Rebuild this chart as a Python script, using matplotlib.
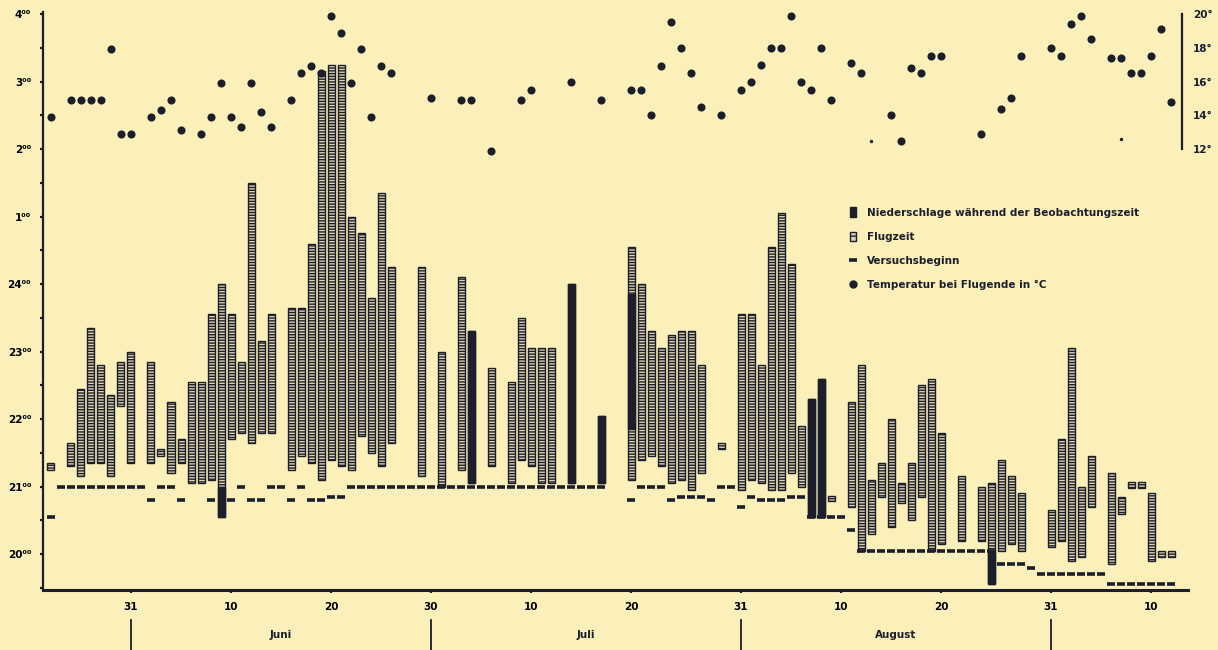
import matplotlib
matplotlib.use("Agg")
import matplotlib.pyplot as plt
from matplotlib.patches import Patch
from matplotlib.lines import Line2D

# days counted from 31 May (0 = 31.5., 30 = 30.6., 61 = 31.7., 92 = 31.8.)
# times in hours, after midnight continued as 25 = 1:00, 26 = 2:00 ...

# Flugzeit
flight_days = [-8, -6, -5, -4, -3, -2, -1, 0, 2, 3, 4, 5, 6, 7, 8, 9, 10, 11, 12, 13, 14,
               16, 17, 18, 19, 20, 21, 22, 23, 24, 25, 26, 29, 31, 33, 34, 36, 38, 39, 40,
               41, 42, 44, 47, 50, 51, 52, 53, 54, 55, 56, 57, 59, 61, 62, 63, 64, 65, 66,
               67, 68, 69, 70, 72, 73, 74, 75, 76, 77, 78, 79, 80, 81, 83, 85, 86, 87, 88,
               89, 92, 93, 94, 95, 96, 98, 99, 100, 101, 102, 103, 104]
flight_start = [21.25, 21.3, 21.15, 21.35, 21.35, 21.15, 22.2, 21.35, 21.35, 21.45, 21.2,
                21.35, 21.05, 21.05, 21.1, 20.55, 21.7, 21.8, 21.65, 21.8, 21.8,
                21.25, 21.45, 21.35, 21.1, 21.4, 21.3, 21.25, 21.75, 21.5, 21.3, 21.65,
                21.15, 21.0, 21.25, 21.05, 21.3, 21.05, 21.4, 21.3,
                21.05, 21.05, 21.05, 21.05, 21.1, 21.4, 21.45, 21.3, 21.05, 21.1, 20.95,
                21.2, 21.55, 20.95, 21.1, 21.05, 20.95, 20.95, 21.2,
                21.0, 20.55, 20.55, 20.78, 20.7, 20.05, 20.3, 20.85, 20.4, 20.75, 20.5,
                20.85, 20.05, 20.15, 20.2, 20.2, 19.55, 20.05, 20.15,
                20.05, 20.1, 20.2, 19.9, 19.95, 20.7, 19.85, 20.6, 20.98, 20.98, 19.9,
                19.95, 19.95]
flight_end = [21.35, 21.65, 22.45, 23.35, 22.8, 22.35, 22.85, 23.0, 22.85, 21.55, 22.25,
              21.7, 22.55, 22.55, 23.55, 24.0, 23.55, 22.85, 25.5, 23.15, 23.55,
              23.65, 23.65, 24.6, 27.15, 27.25, 27.25, 25.0, 24.75, 23.8, 25.35, 24.25,
              24.25, 23.0, 24.1, 23.3, 22.75, 22.55, 23.5, 23.05,
              23.05, 23.05, 24.0, 22.05, 24.55, 24.0, 23.3, 23.05, 23.25, 23.3, 23.3,
              22.8, 21.65, 23.55, 23.55, 22.8, 24.55, 25.05, 24.3,
              21.9, 22.3, 22.6, 20.86, 22.25, 22.8, 21.1, 21.35, 22.0, 21.05, 21.35,
              22.5, 22.6, 21.8, 21.15, 21.0, 21.05, 21.4, 21.15,
              20.9, 20.65, 21.7, 23.05, 21.0, 21.45, 21.2, 20.85, 21.06, 21.06, 20.9,
              20.05, 20.05]

# Niederschlaege waehrend der Beobachtungszeit
rain_days = [9, 34, 44, 47, 50, 68, 69, 86]
rain_start = [20.55, 21.05, 21.05, 21.05, 21.85, 20.55, 20.55, 19.55]
rain_end = [21.0, 23.3, 24.0, 22.05, 23.85, 22.3, 22.6, 20.05]

# Versuchsbeginn
start_days = [-8, -7, -6, -5, -4, -3, -2, -1, 0, 1, 2, 3, 4, 5, 8, 10, 11, 12, 13, 14, 15,
              16, 17, 18, 19, 20, 21,
              22, 23, 24, 25, 26, 27, 28, 29, 30, 31, 32, 33, 34, 35, 36, 37, 38, 39, 40,
              41, 42, 43, 44, 45, 46, 47,
              50, 51, 52, 53, 54, 55, 56, 57, 58, 59, 60, 61, 62, 63, 64, 65, 66, 67,
              68, 69, 70, 71, 72, 73, 74, 75, 76, 77, 78, 79, 80, 81, 82, 83, 84, 85, 86,
              87, 88, 89, 90, 91, 92, 93, 94, 95, 96, 97, 98, 99, 100, 101, 102, 103, 104]
start_time = [20.55, 21.0, 21.0, 21.0, 21.0, 21.0, 21.0, 21.0, 21.0, 21.0, 20.8, 21.0, 21.0,
              20.8, 20.8, 20.8, 21.0, 20.8, 20.8, 21.0, 21.0,
              20.8, 21.0, 20.8, 20.8, 20.85, 20.85,
              21.0, 21.0, 21.0, 21.0, 21.0, 21.0, 21.0, 21.0, 21.0, 21.0, 21.0, 21.0, 21.0,
              21.0, 21.0, 21.0, 21.0, 21.0, 21.0, 21.0, 21.0, 21.0, 21.0, 21.0, 21.0, 21.0,
              20.8, 21.0, 21.0, 21.0, 20.8, 20.85, 20.85, 20.85, 20.8, 21.0, 21.0, 20.7,
              20.85, 20.8, 20.8, 20.8, 20.85, 20.85,
              20.55, 20.55, 20.55, 20.55, 20.35, 20.05, 20.05, 20.05, 20.05, 20.05, 20.05,
              20.05, 20.05, 20.05, 20.05, 20.05, 20.05, 20.05, 20.05,
              19.85, 19.85, 19.85, 19.8, 19.7, 19.7, 19.7, 19.7, 19.7, 19.7, 19.7,
              19.55, 19.55, 19.55, 19.55, 19.55, 19.55, 19.55]

# Temperatur bei Flugende in °C
temp_days = [-8, -6, -5, -4, -3, -2, -1, 0, 2, 3, 4, 5, 7, 8, 9, 10, 11, 12, 13, 14,
             16, 17, 18, 19, 20, 21, 22, 23, 24, 25, 26, 30, 33, 34, 36, 39, 40, 44, 47,
             50, 51, 52, 53, 54, 55, 56, 57, 59, 61, 62, 63, 64, 65, 66, 67, 68, 69, 70,
             72, 73, 76, 77, 78, 79, 80, 81, 85, 87, 88, 89, 92, 93, 94, 95, 96,
             98, 99, 100, 101, 102, 103, 104]
temp_values = [13.9, 14.9, 14.9, 14.9, 14.9, 17.9, 12.9, 12.9, 13.9, 14.3, 14.9, 13.1,
               12.9, 13.9, 15.9, 13.9, 13.3, 15.9, 14.2, 13.3,
               14.9, 16.5, 16.9, 16.5, 19.9, 18.9, 15.9, 17.9, 13.9, 16.9, 16.5,
               15.0, 14.9, 14.9, 11.9, 14.9, 15.5, 16.0, 14.9,
               15.5, 15.5, 14.0, 16.9, 19.5, 18.0, 16.5, 14.5, 14.0,
               15.5, 16.0, 17.0, 18.0, 18.0, 19.9, 16.0, 15.5, 18.0, 14.9,
               17.1, 16.5, 14.0, 12.5, 16.8, 16.5, 17.5, 17.5, 12.9,
               14.4, 15.0, 17.5, 18.0, 17.5, 19.4, 19.9, 18.5,
               17.4, 17.4, 16.5, 16.5, 17.5, 19.1, 14.8]
faint_days = [74, 99]
faint_values = [12.5, 12.6]

hour_ticks = [20, 21, 22, 23, 24, 25, 26, 27, 28]
hour_labels = ['20⁰⁰', '21⁰⁰', '22⁰⁰', '23⁰⁰', '24⁰⁰', '1⁰⁰', '2⁰⁰', '3⁰⁰', '4⁰⁰']
day_ticks = [0, 10, 20, 30, 40, 50, 61, 71, 81, 92, 102]
day_labels = ['31', '10', '20', '30', '10', '20', '31', '10', '20', '31', '10']
month_bounds = [0, 30, 61, 92]
month_names = ['Juni', 'Juli', 'August']
temp_ticks = [12, 14, 16, 18, 20]

paper = '#fbefba'
ink = '#1c1e2c'
bar_face = '#ddd3ad'

plt.rcParams['font.family'] = ['DejaVu Sans']
plt.rcParams['font.weight'] = 'bold'
plt.rcParams['hatch.linewidth'] = 1.0

fig = plt.figure(figsize=(12.18, 6.5), dpi=100, facecolor=paper)
ax = fig.add_axes([0.0353, 0.0923, 0.9401, 0.8892])
ax.set_facecolor(paper)

heights = [e - s for s, e in zip(flight_start, flight_end)]
ax.bar(flight_days, heights, bottom=flight_start, width=0.7, facecolor=bar_face,
       edgecolor=ink, linewidth=1.0, hatch='------', zorder=2)
rain_h = [e - s for s, e in zip(rain_start, rain_end)]
ax.bar(rain_days, rain_h, bottom=rain_start, width=0.7, facecolor=ink,
       edgecolor=ink, linewidth=1.0, zorder=3)
ax.plot(start_days, start_time, ls='none', marker='_', ms=5.5, mew=2.6, color=ink, zorder=4)

ax.set_xlim(-8.8, 105.7)
ax.set_ylim(19.467, 28.03)
ax.set_yticks(hour_ticks)
ax.set_yticklabels(hour_labels, fontsize=7.5)
ax.set_yticks([h + 0.5 for h in hour_ticks[:-1]] + [19.5], minor=True)
ax.set_xticks(day_ticks)
ax.set_xticklabels(day_labels, fontsize=7.5)
ax.tick_params(axis='y', which='both', length=2.5, width=1.6, color=ink, pad=6)
ax.tick_params(axis='x', length=2.5, width=1.6, color=ink, pad=6)
for s in ['top', 'right']:
    ax.spines[s].set_visible(False)
ax.spines['left'].set_linewidth(1.6)
ax.spines['bottom'].set_linewidth(2.2)
ax.spines['left'].set_color(ink)
ax.spines['bottom'].set_color(ink)

# month separators and names under the date axis
trans = ax.get_xaxis_transform()
for b in month_bounds:
    ax.plot([b, b], [-0.052, -0.11], transform=trans, color=ink, lw=1.3, clip_on=False)
for i, name in enumerate(month_names):
    mid = (month_bounds[i] + month_bounds[i + 1]) / 2
    ax.text(mid, -0.078, name, transform=trans, ha='center', va='center',
            fontsize=7.5, color=ink)

# temperature scale on the right
tx = ax.twinx()
tx.set_ylim(12 + (19.467 - 26) * 4, 12 + (28.03 - 26) * 4)
tx.scatter(temp_days, temp_values, s=34, color=ink, zorder=5, linewidths=0)
tx.scatter(faint_days, faint_values, s=6, color=ink, zorder=5, linewidths=0)
for s in ['top', 'left', 'bottom']:
    tx.spines[s].set_visible(False)
tx.spines['right'].set_position(('axes', 0.9948))
tx.spines['right'].set_bounds(12, 20)
tx.spines['right'].set_linewidth(1.6)
tx.spines['right'].set_color(ink)
tx.set_yticks(temp_ticks)
tx.set_yticklabels([f'{t}°' for t in temp_ticks], fontsize=7.5)
tx.tick_params(axis='y', length=0, pad=8, colors=ink)

handles = [
    Patch(facecolor=ink, edgecolor=ink),
    Patch(facecolor=bar_face, edgecolor=ink, hatch='---'),
    Line2D([], [], ls='none', marker='_', ms=5.5, mew=2.6, color=ink),
    Line2D([], [], ls='none', marker='o', ms=5, color=ink),
]
labels = ['Niederschlage während der Beobachtungszeit', 'Flugzeit', 'Versuchsbeginn',
          'Temperatur bei Flugende in °C']
fig.legend(handles, labels, loc='upper left', bbox_to_anchor=(0.698, 0.681),
           frameon=False, fontsize=7.5, handlelength=0.6, handleheight=1.0,
           handletextpad=1.0, labelspacing=1.35, borderpad=0, borderaxespad=0,
           labelcolor=ink)

fig.savefig('out.png', dpi=100, facecolor=paper)
